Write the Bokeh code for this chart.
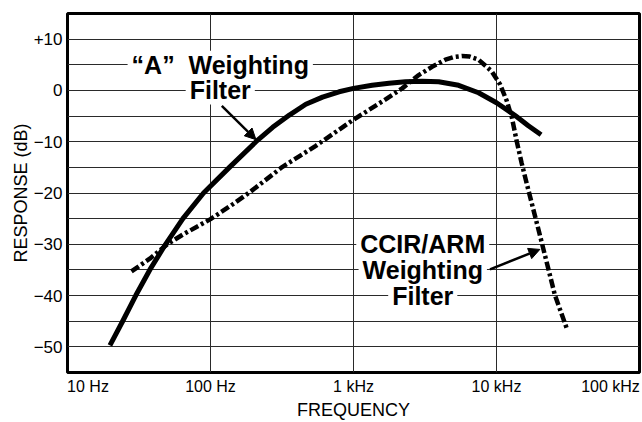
from bokeh.plotting import figure
from bokeh.models import (Range1d, FixedTicker, Label, Arrow, NormalHead,
                          CustomJSTickFormatter)
from bokeh.embed import file_html
from bokeh.resources import INLINE

# ---- data ----
a_freq = [19.8, 24.3, 30.0, 37.6, 48.5, 64.1, 89.4, 135.6, 208, 272, 356, 464,
          607, 793, 1000, 1350, 1770, 2310, 3020, 3940, 5430, 7490, 10000,
          13500, 16700, 20500]
a_db = [-49.7, -45, -40, -35, -30, -25, -20, -15, -10, -7.2, -4.8, -2.7,
        -1.3, -0.26, 0.4, 1.0, 1.4, 1.7, 1.8, 1.7, 1.0, -0.45, -2.4,
        -4.9, -6.9, -8.65]

ccir_freq = [28, 37.6, 50.5, 64.1, 100, 143, 187, 319, 545, 1000, 1580, 2190,
             2860, 3540, 4390, 5000, 5730, 6500, 7490, 9270, 10600, 11800, 12800,
             13800, 15000, 16700, 18600, 20700, 23000, 25600, 30900]
ccir_db = [-35.3, -32.8, -29.9, -28.1, -25.1, -22.2, -19.9, -14.9, -10.8, -5.7,
           -2.2, 0.4, 3.0, 4.6, 6.0, 6.5, 6.7, 6.6, 6.0, 3.7, 1.15, -2.05, -5.25,
           -9.7, -14.2, -19.4, -24.5, -29.6, -34.7, -39.9, -46.3]

x_tick_values = [10, 100, 1000, 10000, 100000]
x_tick_labels = ["10 Hz", "100 Hz", "1 kHz", "10 kHz", "100 kHz"]
y_tick_values = [10, 0, -10, -20, -30, -40, -50]
y_tick_labels = ["+10", "0", "\u221210", "\u221220", "\u221230", "\u221240", "\u221250"]
y_grid_values = [-50, -45, -40, -35, -30, -25, -20, -15, -10, -5, 0, 5, 10]

FONT = "Liberation Sans"
Y_MIN, Y_MAX = -55, 15
PX_PER_DECADE = 143.0

p = figure(width=642, height=422, x_axis_type="log",
           x_range=Range1d(10, 100000), y_range=Range1d(Y_MIN, Y_MAX),
           output_backend="svg", toolbar_location=None,
           min_border_left=67, min_border_right=3, min_border_top=13,
           min_border_bottom=47)
p.background_fill_color = "white"
p.border_fill_color = "white"
p.outline_line_color = "black"
p.outline_line_width = 3

# grids
p.xgrid[0].ticker = FixedTicker(ticks=x_tick_values)
p.ygrid[0].ticker = FixedTicker(ticks=y_grid_values)
for g in (p.xgrid[0], p.ygrid[0]):
    g.grid_line_color = "#2a2a2a"
    g.grid_line_width = 1
    g.grid_line_alpha = 1.0

# y axis
ya = p.yaxis[0]
ya.ticker = FixedTicker(ticks=y_tick_values)
ya.major_label_overrides = {v: s for v, s in zip(y_tick_values, y_tick_labels)}
ya.axis_line_color = None
ya.major_tick_line_color = None
ya.minor_tick_line_color = None
ya.major_tick_out = 0
ya.major_label_standoff = 5
ya.major_label_text_font = FONT
ya.major_label_text_font_size = "17px"
ya.major_label_text_color = "black"
ya.axis_label = "RESPONSE (dB)"
ya.axis_label_text_font = FONT
ya.axis_label_text_font_size = "18px"
ya.axis_label_text_font_style = "normal"
ya.axis_label_text_color = "black"
ya.axis_label_standoff = 0

# x axis: the end labels sit inside the frame (left- / right-aligned look),
# so their label anchors are nudged inward by half a label width
label_pos = list(x_tick_values)
label_pos[0] = x_tick_values[0] * 10 ** (20.5 / PX_PER_DECADE)
label_pos[-1] = x_tick_values[-1] / 10 ** (29.0 / PX_PER_DECADE)
xa = p.xaxis[0]
xa.ticker = FixedTicker(ticks=label_pos)
xa.formatter = CustomJSTickFormatter(args=dict(labels=x_tick_labels),
                                     code="return labels[index];")
xa.axis_line_color = None
xa.major_tick_line_color = None
xa.minor_tick_line_color = None
xa.major_tick_out = 0
xa.major_tick_in = 0
xa.major_label_standoff = 5
xa.major_label_text_font = FONT
xa.major_label_text_font_size = "16px"
xa.major_label_text_color = "black"
xa.axis_label = "FREQUENCY"
xa.axis_label_text_font = FONT
xa.axis_label_text_font_size = "18px"
xa.axis_label_text_font_style = "normal"
xa.axis_label_text_color = "black"
xa.axis_label_standoff = 2

# curves
p.line(a_freq, a_db, line_color="black", line_width=5, line_cap="butt",
       line_join="round")
p.line(ccir_freq, ccir_db, line_color="black", line_width=4.5, line_cap="butt",
       line_join="round", line_dash="9 3 3 3")

# callout labels (lower lines first so upper descenders stay visible)
def callout(x, y, text):
    p.add_layout(Label(x=x, y=y, text=text, text_font=FONT,
                       text_font_size="25px", text_font_style="bold",
                       text_color="black", text_align="center",
                       text_baseline="middle", background_fill_color="white",
                       padding=dict(left=4, right=4, top=0, bottom=0)))

callout(117, 0, "Filter")
callout(117, 5, "\u201cA\u201d\u00a0\u00a0Weighting")
callout(3050, -40, "Filter")
callout(3050, -35, "Weighting")
callout(3050, -30, "CCIR/ARM")

# arrows
p.add_layout(Arrow(x_start=120, y_start=-3.0, x_end=208, y_end=-9.6,
                   line_color="black", line_width=2.5,
                   end=NormalHead(size=11, line_color="black",
                                  fill_color="black", line_width=1)))
p.add_layout(Arrow(x_start=9000, y_start=-34.9, x_end=20100, y_end=-31.0,
                   line_color="black", line_width=2.5,
                   end=NormalHead(size=11, line_color="black",
                                  fill_color="black", line_width=1)))

open("out.html", "w").write(file_html(p, INLINE))
